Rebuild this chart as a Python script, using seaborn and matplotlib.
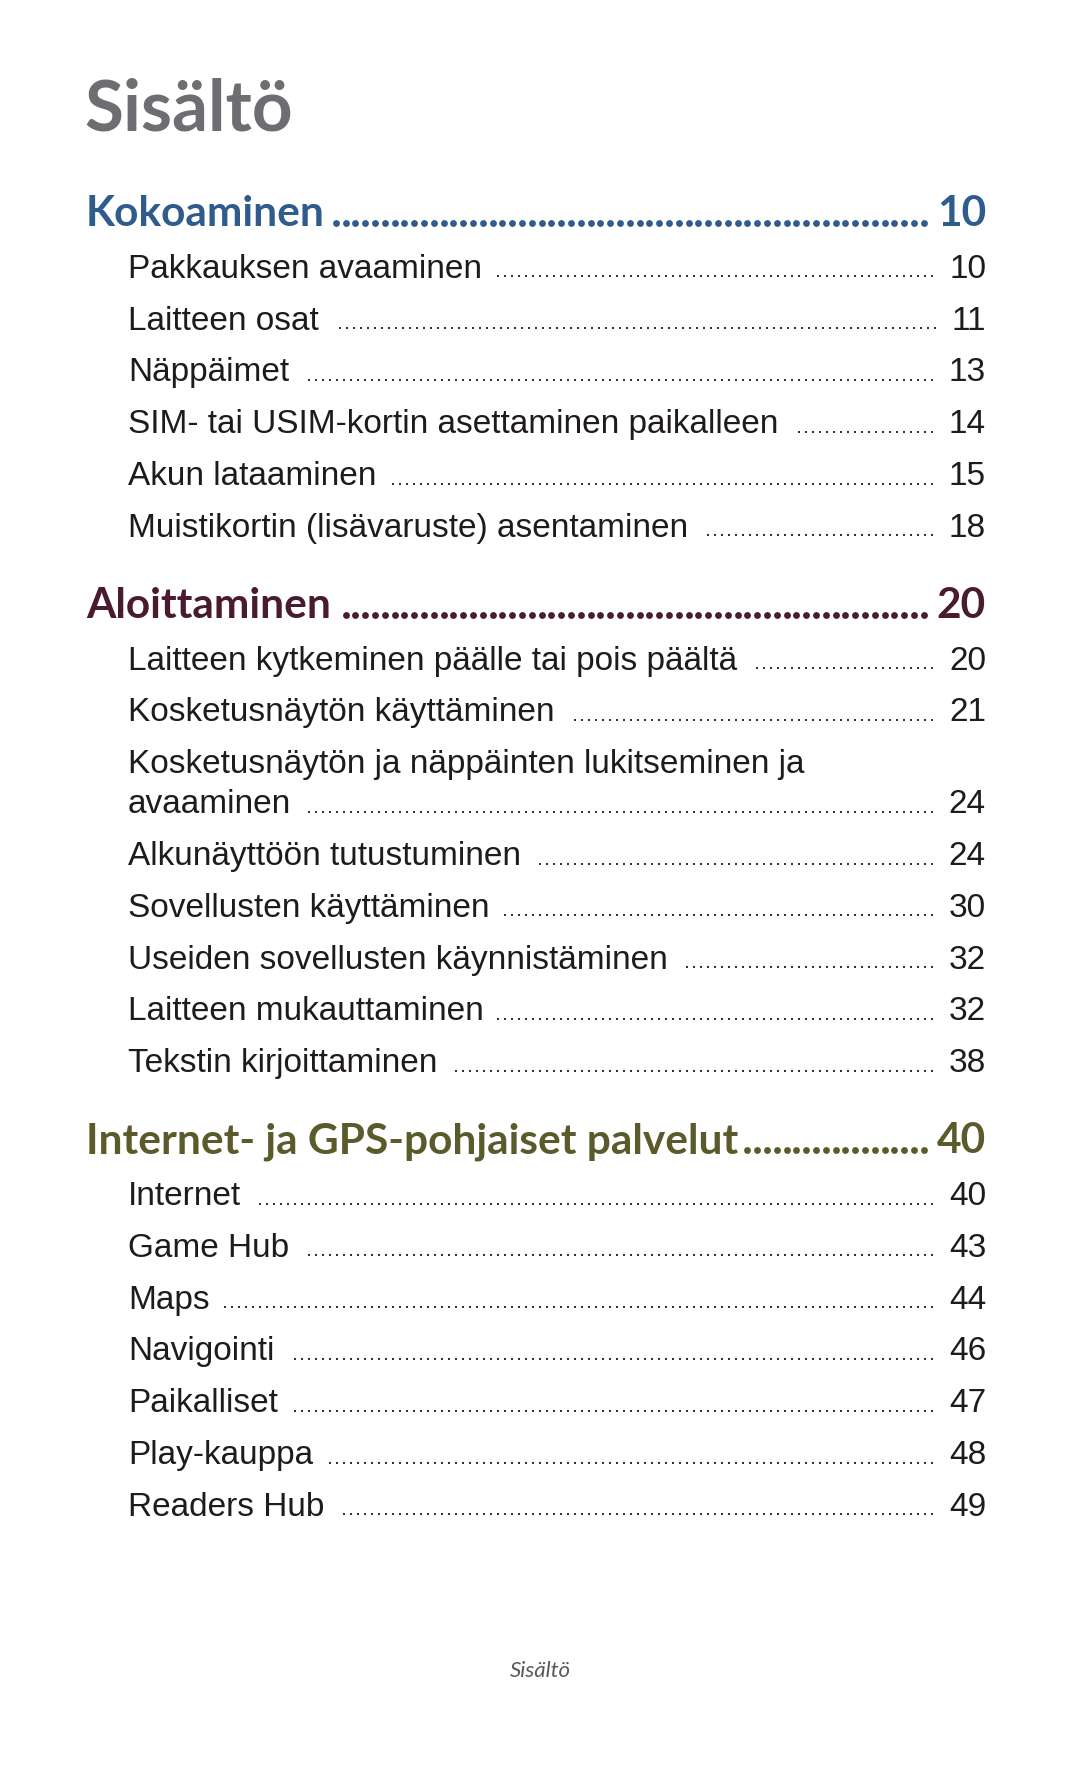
import numpy as np
import seaborn as sns
import matplotlib.pyplot as plt

# page texts
page_title = "Sisältö"
footer_text = "Sisältö"

section_titles = ["Kokoaminen", "Aloittaminen", "Internet- ja GPS-pohjaiset palvelut"]
section_pages = [10, 20, 40]
section_colors = ["#2f5b8d", "#4a1b2e", "#5b5a2b"]

kokoaminen_items = ["Pakkauksen avaaminen", "Laitteen osat", "Näppäimet",
                    "SIM- tai USIM-kortin asettaminen paikalleen", "Akun lataaminen",
                    "Muistikortin (lisävaruste) asentaminen"]
kokoaminen_pages = [10, 11, 13, 14, 15, 18]

aloittaminen_items = ["Laitteen kytkeminen päälle tai pois päältä", "Kosketusnäytön käyttäminen",
                      "Kosketusnäytön ja näppäinten lukitseminen ja\navaaminen",
                      "Alkunäyttöön tutustuminen", "Sovellusten käyttäminen",
                      "Useiden sovellusten käynnistäminen", "Laitteen mukauttaminen",
                      "Tekstin kirjoittaminen"]
aloittaminen_pages = [20, 21, 24, 24, 30, 32, 32, 38]

internet_items = ["Internet", "Game Hub", "Maps", "Navigointi", "Paikalliset",
                  "Play-kauppa", "Readers Hub"]
internet_pages = [40, 43, 44, 46, 47, 48, 49]

section_items = [kokoaminen_items, aloittaminen_items, internet_items]
section_item_pages = [kokoaminen_pages, aloittaminen_pages, internet_pages]

W, H = 1080, 1771
left_sec, left_item, right = 86, 128, 986
first_base = 226
row_step = 51.8
wrap_step = 40
section_gap = 81

item_font = ['Liberation Sans Narrow', 'Liberation Sans', 'DejaVu Sans']
head_font = ['Lato', 'DejaVu Sans']
item_color = '#1f1b1c'

sns.set_theme(style='white')
plt.rcParams['font.family'] = head_font

fig = plt.figure(figsize=(W / 100, H / 100), dpi=100)
ax = fig.add_axes([0, 0, 1, 1])
ax.set_xlim(0, W)
ax.set_ylim(H, 0)
ax.axis('off')
renderer = fig.canvas.get_renderer()

ax.text(left_sec - 2, 130, page_title, fontsize=51, fontweight='bold', color='#6d6e71',
        family=head_font, va='baseline', ha='left')


def leader(x_start, x_end, y, step, size, marker, color):
    xs = np.arange(x_end, x_start, -step)
    sns.scatterplot(x=xs, y=np.full(len(xs), y), ax=ax, marker=marker, s=size,
                    color=color, linewidth=0, legend=False)


y = first_base
for s, title in enumerate(section_titles):
    col = section_colors[s]
    t = ax.text(left_sec, y, title, fontsize=30.5, fontweight='bold', color=col,
                family=head_font, va='baseline', ha='left')
    n = ax.text(right, y, str(section_pages[s]), fontsize=30.5, fontweight='bold', color=col,
                family=head_font, va='baseline', ha='right')
    x0 = t.get_window_extent(renderer).x1 + 8
    x1 = n.get_window_extent(renderer).x0 - 13
    leader(x0, x1, y - 3, 9.8, 24, 'o', col)

    for label, page in zip(section_items[s], section_item_pages[s]):
        y += row_step
        lines = label.split('\n')
        for k, line in enumerate(lines):
            if k > 0:
                y += wrap_step
            t = ax.text(left_item, y, line, fontsize=24, color=item_color,
                        family=item_font, va='baseline', ha='left')
        n = ax.text(right, y, str(page), fontsize=24, color=item_color,
                    family=item_font, va='baseline', ha='right')
        x0 = t.get_window_extent(renderer).x1 + 14
        x1 = n.get_window_extent(renderer).x0 - 17
        leader(x0, x1, y - 1.4, 7, 3.6, 's', '#353132')
    y += section_gap

ax.text(W / 2, 1677, footer_text, fontsize=16, fontstyle='italic',
        color='#58595b', family=head_font, va='baseline', ha='center')

fig.savefig('out.png', dpi=100)
